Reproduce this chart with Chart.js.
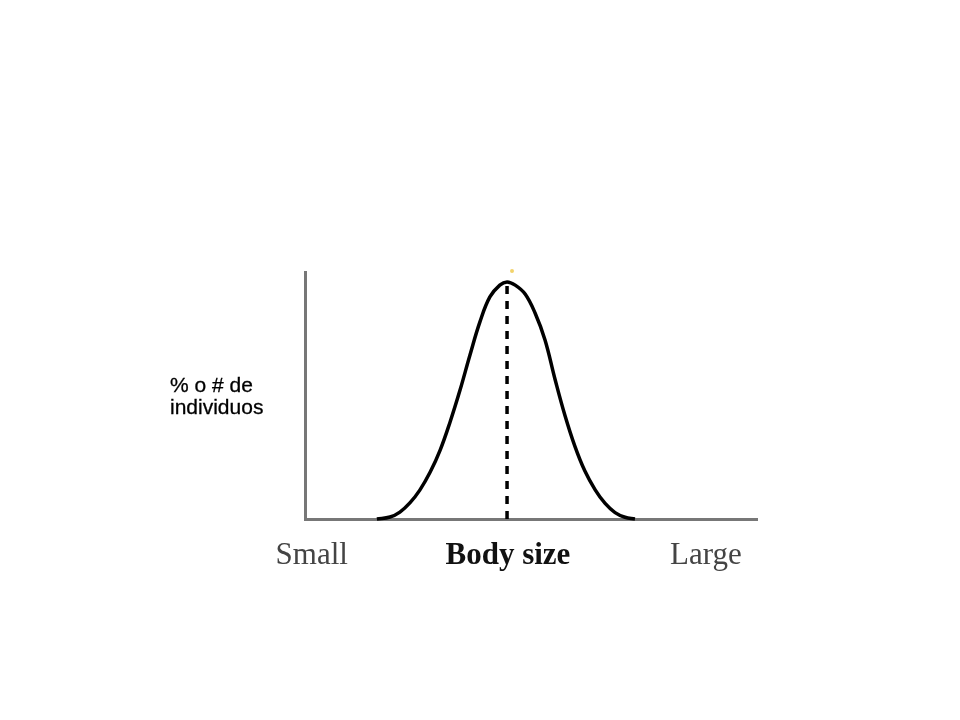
<!DOCTYPE html>
<html>
<head>
<meta charset="utf-8">
<script src="https://cdn.jsdelivr.net/npm/chart.js@4.4.1/dist/chart.umd.min.js"></script>
<style>
	html, body { margin: 0; padding: 0; background: #ffffff; }
	#wrap { position: relative; width: 960px; height: 720px; }
	#ylabel {
		position: absolute;
		left: 170px;
		top: 374px;
		font-family: "Liberation Sans", Arial, sans-serif;
		font-size: 21px;
		line-height: 22px;
		color: #000000;
		-webkit-text-stroke: 0.3px #000000;
	}
</style>
</head>
<body>
<div id="wrap">
	<canvas id="curve" width="960" height="720"></canvas>
	<div id="ylabel">% o # de<br>individuos</div>
</div>
<script>
// Points (x: 0-100 along the axis, y: 0-100 up the axis)
const curveX = [15.9, 18.8, 21.0, 23.2, 25.4, 27.7, 29.9, 32.1, 34.3, 36.5, 38.7, 40.9, 43.1, 44.7, 46.5, 48.7, 50.9, 53.1, 55.3, 57.5, 59.7, 61.9, 64.2, 66.4, 68.6, 70.8, 73.0];
const curveY = [0, 0.8, 2.8, 6.5, 11.7, 19.0, 27.9, 39.3, 52.2, 66.4, 79.8, 89.9, 94.7, 96.0, 94.7, 91.1, 83.4, 72.5, 56.7, 42.0, 29.5, 19.5, 11.8, 6.3, 2.6, 0.7, 0];

// Dashed line at the mean
const meanX = [44.7, 44.7];
const meanY = [0, 96.0];

// Little yellow mark above the peak
const markX = [45.8];
const markY = [100.4];

// Labels under the horizontal axis
const tickValues = [1.5, 44.9, 88.7];
const tickLabels = ['Small', 'Body size', 'Large'];

function toPoints(xs, ys) {
	return xs.map((x, i) => ({ x: x, y: ys[i] }));
}

function createCurveChart() {
	const ctx = document.getElementById('curve');

	new Chart(ctx, {
		type: 'line',
		data: {
			datasets: [
				{
					label: 'curve',
					data: toPoints(curveX, curveY),
					borderColor: '#000000',
					borderWidth: 3.5,
					pointRadius: 0,
					tension: 0.4,
					clip: false
				},
				{
					label: 'mean',
					data: toPoints(meanX, meanY),
					borderColor: '#000000',
					borderWidth: 3.5,
					borderDash: [8, 7],
					pointRadius: 0,
					clip: false
				},
				{
					label: 'mark',
					data: toPoints(markX, markY),
					showLine: false,
					pointRadius: 2,
					pointBackgroundColor: '#f2d36b',
					pointBorderWidth: 0,
					clip: false
				}
			]
		},
		options: {
			responsive: false,
			animation: false,
			layout: {
				padding: { top: 272, right: 203, left: 0, bottom: 0 }
			},
			scales: {
				x: {
					type: 'linear',
					min: 0,
					max: 100,
					grid: { display: false },
					border: { display: true, color: '#777777', width: 3 },
					afterBuildTicks: (scale) => {
						scale.ticks = tickValues.map(v => ({ value: v }));
					},
					afterFit: (scale) => {
						scale.height = 201;
					},
					ticks: {
						autoSkip: false,
						maxRotation: 0,
						padding: 10,
						callback: (value, index) => tickLabels[index],
						font: (c) => ({
							family: '"Liberation Serif", "Times New Roman", serif',
							size: 31,
							weight: c.index === 1 ? 'bold' : 'normal'
						}),
						color: (c) => c.index === 1 ? '#111111' : '#444444'
					}
				},
				y: {
					type: 'linear',
					min: 0,
					max: 100,
					grid: { display: false },
					border: { display: true, color: '#777777', width: 3 },
					ticks: { display: false },
					afterFit: (scale) => {
						scale.width = 305;
					}
				}
			},
			plugins: {
				legend: { display: false },
				tooltip: { enabled: false }
			}
		}
	});
}

createCurveChart();
</script>
</body>
</html>
